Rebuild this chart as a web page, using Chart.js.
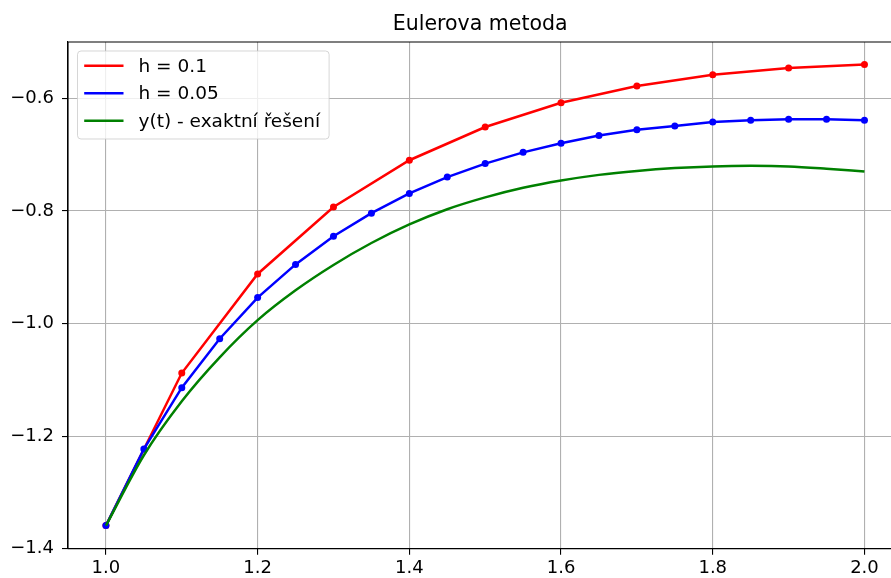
<!DOCTYPE html>
<html>
<head>
<meta charset="utf-8">
<script src="https://cdn.jsdelivr.net/npm/chart.js@4/dist/chart.umd.min.js"></script>
<style>
  html, body { margin: 0; padding: 0; background: #ffffff; overflow: hidden; }
  #c { display: block; }
</style>
</head>
<body>
<canvas id="c" width="891" height="578" style="width:891px;height:578px"></canvas>
<script>
// ---- data ----
const tRed = [1.0, 1.1, 1.2, 1.3, 1.4, 1.5, 1.6, 1.7, 1.8, 1.9, 2.0];
const yRed = [-1.359, -1.088, -0.912, -0.793, -0.710, -0.651, -0.608, -0.578, -0.558, -0.546, -0.540];

const tBlue = [1.0, 1.05, 1.1, 1.15, 1.2, 1.25, 1.3, 1.35, 1.4, 1.45, 1.5,
               1.55, 1.6, 1.65, 1.7, 1.75, 1.8, 1.85, 1.9, 1.95, 2.0];
const yBlue = [-1.359, -1.223, -1.114, -1.027, -0.954, -0.895, -0.845, -0.804, -0.769, -0.740, -0.716,
               -0.696, -0.680, -0.666, -0.656, -0.649, -0.642, -0.639, -0.637, -0.637, -0.639];

const tExact = [1.0, 1.05, 1.1, 1.15, 1.2, 1.25, 1.3, 1.35, 1.4, 1.45, 1.5,
                1.55, 1.6, 1.65, 1.7, 1.75, 1.8, 1.85, 1.9, 1.95, 2.0];
const yExact = [-1.359, -1.234, -1.138, -1.060, -0.994, -0.941, -0.896, -0.857, -0.824, -0.797, -0.776,
                -0.759, -0.746, -0.736, -0.729, -0.724, -0.721, -0.720, -0.721, -0.725, -0.730];

const seriesLabels = ['h = 0.1', 'h = 0.05', 'y(t) - exaktní řešení'];
const titleText = 'Eulerova metoda';

const xTickValues = [1.0, 1.2, 1.4, 1.6, 1.8, 2.0];
const xTickLabels = ['1.0', '1.2', '1.4', '1.6', '1.8', '2.0'];
const yTickValues = [-1.4, -1.2, -1.0, -0.8, -0.6];
const yTickLabels = ['\u22121.4', '\u22121.2', '\u22121.0', '\u22120.8', '\u22120.6'];

// axis window (the right part of the axes is cut off by the picture edge)
const xMin = 0.95, xMax = 2.035, xFullMax = 2.05;
const yMin = -1.4, yMax = -0.5;

// ---- chart ----
const FONT = '"DejaVu Sans"';
const TICK_SIZE = 18;
const LEGEND_SIZE = 18.5;
const TITLE_SIZE = 20.5;
const toXY = (ts, ys) => ts.map((t, i) => ({ x: t, y: ys[i] }));

const framePlugin = {
  id: 'frame',
  afterDraw(chart) {
    const { ctx, chartArea: a } = chart;
    ctx.save();
    ctx.strokeStyle = '#000000';
    ctx.lineWidth = 1.1;
    ctx.beginPath();
    ctx.moveTo(a.right + 2, a.top);
    ctx.lineTo(a.left, a.top);
    ctx.lineTo(a.left, a.bottom);
    ctx.lineTo(a.right + 2, a.bottom);
    ctx.stroke();
    // title centred over the full axes (which extend past the picture edge), like matplotlib
    const fullRight = chart.scales.x.getPixelForValue(xFullMax);
    ctx.font = TITLE_SIZE + 'px ' + FONT;
    ctx.fillStyle = '#000000';
    ctx.textAlign = 'center';
    ctx.textBaseline = 'alphabetic';
    ctx.fillText(titleText, (a.left + fullRight) / 2 - 5, 29.5);
    ctx.restore();
  }
};

const legendPlugin = {
  id: 'innerLegend',
  afterDraw(chart) {
    const { ctx, chartArea: a } = chart;
    const ds = chart.data.datasets;
    const order = [0, 1, 2];
    ctx.save();
    ctx.font = LEGEND_SIZE + 'px ' + FONT;
    let maxW = 0;
    order.forEach(i => { maxW = Math.max(maxW, ctx.measureText(ds[i].label).width); });
    const bx = a.left + 9.5, by = a.top + 9;
    const textOff = 61, rowH = 27.5, firstRow = 14.7;
    const bw = textOff + maxW + 9, bh = 88;
    const r = 3.5;
    ctx.beginPath();
    ctx.moveTo(bx + r, by);
    ctx.lineTo(bx + bw - r, by);
    ctx.quadraticCurveTo(bx + bw, by, bx + bw, by + r);
    ctx.lineTo(bx + bw, by + bh - r);
    ctx.quadraticCurveTo(bx + bw, by + bh, bx + bw - r, by + bh);
    ctx.lineTo(bx + r, by + bh);
    ctx.quadraticCurveTo(bx, by + bh, bx, by + bh - r);
    ctx.lineTo(bx, by + r);
    ctx.quadraticCurveTo(bx, by, bx + r, by);
    ctx.closePath();
    ctx.fillStyle = 'rgba(255,255,255,0.8)';
    ctx.fill();
    ctx.strokeStyle = 'rgba(204,204,204,0.8)';
    ctx.lineWidth = 1;
    ctx.stroke();
    order.forEach((i, k) => {
      const y = by + firstRow + k * rowH;
      ctx.beginPath();
      ctx.moveTo(bx + 6.7, y);
      ctx.lineTo(bx + 46, y);
      ctx.strokeStyle = ds[i].borderColor;
      ctx.lineWidth = 2.5;
      ctx.stroke();
      ctx.fillStyle = '#000000';
      ctx.textBaseline = 'middle';
      ctx.textAlign = 'left';
      ctx.fillText(ds[i].label, bx + textOff, y + 1);
    });
    ctx.restore();
  }
};

new Chart(document.getElementById('c'), {
  type: 'line',
  data: {
    datasets: [
      {
        label: seriesLabels[0],
        data: toXY(tRed, yRed),
        borderColor: '#ff0000',
        backgroundColor: '#ff0000',
        borderWidth: 2.5,
        pointRadius: 3.5,
        pointBorderWidth: 0,
        pointBackgroundColor: '#ff0000',
        tension: 0,
        clip: false,
        order: 3
      },
      {
        label: seriesLabels[1],
        data: toXY(tBlue, yBlue),
        borderColor: '#0000ff',
        backgroundColor: '#0000ff',
        borderWidth: 2.5,
        pointRadius: 3.5,
        pointBorderWidth: 0,
        pointBackgroundColor: '#0000ff',
        tension: 0,
        clip: false,
        order: 2
      },
      {
        label: seriesLabels[2],
        data: toXY(tExact, yExact),
        borderColor: '#008000',
        backgroundColor: '#008000',
        borderWidth: 2.5,
        pointRadius: 0,
        cubicInterpolationMode: 'monotone',
        clip: false,
        order: 1
      }
    ]
  },
  options: {
    responsive: false,
    maintainAspectRatio: false,
    animation: false,
    devicePixelRatio: 1,
    layout: { autoPadding: false, padding: { left: 0, right: 0, top: 42, bottom: 0 } },
    plugins: {
      legend: { display: false },
      tooltip: { enabled: false },
      title: { display: false }
    },
    scales: {
      x: {
        type: 'linear',
        min: xMin,
        max: xMax,
        afterBuildTicks(scale) { scale.ticks = xTickValues.map(v => ({ value: v })); },
        afterFit(scale) { scale.height = 29.3; scale.paddingLeft = 0; scale.paddingRight = 0; },
        ticks: {
          color: '#000000',
          font: { family: FONT, size: TICK_SIZE },
          padding: 3,
          maxRotation: 0,
          callback(value) {
            const i = xTickValues.findIndex(v => Math.abs(v - value) < 1e-9);
            return i >= 0 ? xTickLabels[i] : '';
          }
        },
        grid: { color: '#b0b0b0', lineWidth: 1.1, tickColor: '#000000', tickLength: 6, tickWidth: 1.1 },
        border: { display: true, color: '#000000', width: 1.1 }
      },
      y: {
        type: 'linear',
        min: yMin,
        max: yMax,
        afterBuildTicks(scale) { scale.ticks = yTickValues.map(v => ({ value: v })); },
        afterFit(scale) { scale.width = 68; scale.paddingTop = 0; scale.paddingBottom = 0; },
        ticks: {
          color: '#000000',
          font: { family: FONT, size: TICK_SIZE },
          padding: 8,
          callback(value) {
            const i = yTickValues.findIndex(v => Math.abs(v - value) < 1e-9);
            return i >= 0 ? yTickLabels[i] : '';
          }
        },
        grid: { color: '#b0b0b0', lineWidth: 1.1, tickColor: '#000000', tickLength: 6, tickWidth: 1.1 },
        border: { display: true, color: '#000000', width: 1.1 }
      }
    }
  },
  plugins: [framePlugin, legendPlugin]
});
</script>
</body>
</html>
